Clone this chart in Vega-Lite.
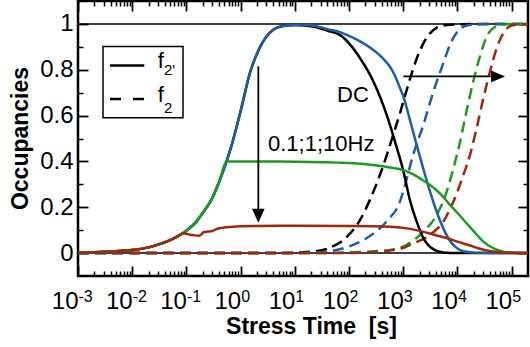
{
  "$schema": "https://vega.github.io/schema/vega-lite/v6.json",
  "width": 450,
  "height": 275,
  "autosize": {"type": "none"},
  "padding": {"left": 78, "top": 1, "right": 2, "bottom": 71},
  "background": "white",
  "config": {
    "view": {"stroke": "black", "strokeWidth": 2.5},
    "font": "Liberation Sans",
    "axis": {"grid": false, "labelColor": "black", "titleColor": "black", "tickColor": "black", "labelFont": "Liberation Sans", "titleFont": "Liberation Sans"}
  },
  "resolve": {"axis": {"x": "independent", "y": "independent"}},
  "layer": [
    {
      "data": {"values": [{"t": 0.001, "t2": 200000, "v": 0}, {"t": 0.001, "t2": 200000, "v": 1}]},
      "mark": {"type": "rule", "color": "black", "strokeWidth": 1.5},
      "encoding": {
        "x": {"field": "t", "type": "quantitative", "scale": {"type": "log", "domain": [0.001, 200000], "nice": false},
          "axis": {"orient": "bottom", "values": [0.001, 0.01, 0.1, 1, 10, 100, 1000, 10000, 100000], "labels": false, "domain": false, "ticks": true, "tickSize": -10, "tickWidth": 1.8, "title": null}},
        "x2": {"field": "t2"},
        "y": {"field": "v", "type": "quantitative", "scale": {"domain": [-0.1, 1.1], "nice": false, "zero": false},
          "axis": {"orient": "left", "values": [0, 0.2, 0.4, 0.6, 0.8, 1], "labels": false, "domain": false, "ticks": true, "tickSize": -10, "tickWidth": 1.8, "title": null}}
      }
    },
    {
      "data": {"values": [
        {"t": 0.001, "v": 0}, {"t": 5, "v": 0}, {"t": 10, "v": 0.002}, {"t": 20, "v": 0.006}, {"t": 40, "v": 0.02},
        {"t": 90, "v": 0.07}, {"t": 160, "v": 0.145}, {"t": 240, "v": 0.23}, {"t": 370, "v": 0.34}, {"t": 500, "v": 0.43},
        {"t": 660, "v": 0.52}, {"t": 870, "v": 0.61}, {"t": 1000, "v": 0.66}, {"t": 1330, "v": 0.76}, {"t": 1780, "v": 0.85},
        {"t": 2700, "v": 0.94}, {"t": 4100, "v": 0.983}, {"t": 6300, "v": 0.995}, {"t": 12600, "v": 0.999}, {"t": 200000, "v": 1}
      ]},
      "mark": {"type": "line", "color": "#000000", "strokeWidth": 2.5, "strokeDash": [11, 6], "interpolate": "monotone"},
      "encoding": {
        "x": {"field": "t", "type": "quantitative", "scale": {"type": "log", "domain": [0.001, 200000], "nice": false},
          "axis": {"orient": "bottom", "values": [0.002,0.003,0.004,0.005,0.006,0.007,0.008,0.009,0.02,0.03,0.04,0.05,0.06,0.07,0.08,0.09,0.2,0.3,0.4,0.5,0.6,0.7,0.8,0.9,2,3,4,5,6,7,8,9,20,30,40,50,60,70,80,90,200,300,400,500,600,700,800,900,2000,3000,4000,5000,6000,7000,8000,9000,20000,30000,40000,50000,60000,70000,80000,90000], "labels": false, "domain": false, "ticks": true, "tickSize": -5, "tickWidth": 1.5, "title": null}},
        "y": {"field": "v", "type": "quantitative", "scale": {"domain": [-0.1, 1.1], "nice": false, "zero": false},
          "axis": {"orient": "left", "values": [0.1, 0.3, 0.5, 0.7, 0.9], "labels": false, "domain": false, "ticks": true, "tickSize": -5, "tickWidth": 1.5, "title": null}}
      }
    },
    {
      "data": {"values": [
        {"t": 0.001, "v": 0}, {"t": 10, "v": 0}, {"t": 20, "v": 0.002}, {"t": 40, "v": 0.007}, {"t": 90, "v": 0.025},
        {"t": 210, "v": 0.065}, {"t": 500, "v": 0.14}, {"t": 870, "v": 0.225}, {"t": 1000, "v": 0.27}, {"t": 1530, "v": 0.43},
        {"t": 2350, "v": 0.56}, {"t": 3600, "v": 0.705}, {"t": 5500, "v": 0.83}, {"t": 7300, "v": 0.91}, {"t": 9700, "v": 0.963},
        {"t": 15000, "v": 0.993}, {"t": 25000, "v": 0.999}, {"t": 200000, "v": 1}
      ]},
      "mark": {"type": "line", "color": "#1a5fa6", "strokeWidth": 2.5, "strokeDash": [11, 6], "interpolate": "monotone"},
      "encoding": {
        "x": {"field": "t", "type": "quantitative", "scale": {"type": "log", "domain": [0.001, 200000], "nice": false},
          "axis": {"orient": "top", "values": [0.001, 0.01, 0.1, 1, 10, 100, 1000, 10000, 100000], "labels": false, "domain": false, "ticks": true, "tickSize": -10, "tickWidth": 1.8, "title": null}},
        "y": {"field": "v", "type": "quantitative", "scale": {"domain": [-0.1, 1.1], "nice": false, "zero": false},
          "axis": {"orient": "right", "values": [0, 0.2, 0.4, 0.6, 0.8, 1], "labels": false, "domain": false, "ticks": true, "tickSize": -10, "tickWidth": 1.8, "title": null}}
      }
    },
    {
      "data": {"values": [
        {"t": 0.001, "v": 0}, {"t": 30, "v": 0}, {"t": 100, "v": 0.003}, {"t": 250, "v": 0.007}, {"t": 570, "v": 0.014},
        {"t": 1160, "v": 0.036}, {"t": 2350, "v": 0.094}, {"t": 4150, "v": 0.167}, {"t": 6350, "v": 0.269}, {"t": 8430, "v": 0.371},
        {"t": 11200, "v": 0.487}, {"t": 14900, "v": 0.625}, {"t": 19600, "v": 0.75}, {"t": 26100, "v": 0.86}, {"t": 34700, "v": 0.945},
        {"t": 53100, "v": 0.99}, {"t": 80000, "v": 0.998}, {"t": 200000, "v": 1}
      ]},
      "mark": {"type": "line", "color": "#1c9c1c", "strokeWidth": 2.5, "strokeDash": [11, 6], "interpolate": "monotone"},
      "encoding": {
        "x": {"field": "t", "type": "quantitative", "scale": {"type": "log", "domain": [0.001, 200000], "nice": false},
          "axis": {"orient": "top", "values": [0.002,0.003,0.004,0.005,0.006,0.007,0.008,0.009,0.02,0.03,0.04,0.05,0.06,0.07,0.08,0.09,0.2,0.3,0.4,0.5,0.6,0.7,0.8,0.9,2,3,4,5,6,7,8,9,20,30,40,50,60,70,80,90,200,300,400,500,600,700,800,900,2000,3000,4000,5000,6000,7000,8000,9000,20000,30000,40000,50000,60000,70000,80000,90000], "labels": false, "domain": false, "ticks": true, "tickSize": -5, "tickWidth": 1.5, "title": null}},
        "y": {"field": "v", "type": "quantitative", "scale": {"domain": [-0.1, 1.1], "nice": false, "zero": false},
          "axis": {"orient": "right", "values": [0.1, 0.3, 0.5, 0.7, 0.9], "labels": false, "domain": false, "ticks": true, "tickSize": -5, "tickWidth": 1.5, "title": null}}
      }
    },
    {
      "data": {"values": [
        {"t": 0.001, "v": 0}, {"t": 100, "v": 0}, {"t": 300, "v": 0.005}, {"t": 1000, "v": 0.022}, {"t": 1330, "v": 0.036},
        {"t": 3120, "v": 0.08}, {"t": 5500, "v": 0.138}, {"t": 8430, "v": 0.225}, {"t": 12900, "v": 0.342}, {"t": 17100, "v": 0.43},
        {"t": 22600, "v": 0.546}, {"t": 30100, "v": 0.677}, {"t": 39900, "v": 0.793}, {"t": 53100, "v": 0.895}, {"t": 70300, "v": 0.96},
        {"t": 107000, "v": 0.995}, {"t": 200000, "v": 1}
      ]},
      "mark": {"type": "line", "color": "#a3260c", "strokeWidth": 2.5, "strokeDash": [11, 6], "interpolate": "monotone"},
      "encoding": {
        "x": {"field": "t", "type": "quantitative", "scale": {"type": "log", "domain": [0.001, 200000], "nice": false},
          "axis": {"orient": "bottom", "values": [0.001, 0.01, 0.1, 1, 10, 100, 1000, 10000, 100000], "labelExpr": "'10'", "labelAlign": "right", "labelDx": 1, "labelBaseline": "alphabetic", "labelPadding": 32, "labelFontSize": 24, "labelOverlap": false, "labelFlush": false, "ticks": false, "domain": false,
            "title": "Stress Time\u00a0 [s]", "titleFontSize": 23, "titleFontWeight": "bold", "titleBaseline": "alphabetic", "titleX": 233, "titleY": 57}},
        "y": {"field": "v", "type": "quantitative", "scale": {"domain": [-0.1, 1.1], "nice": false, "zero": false},
          "axis": {"orient": "left", "values": [0, 0.2, 0.4, 0.6, 0.8, 1], "labelExpr": "'' + datum.value", "labelFontSize": 24, "labelPadding": 5, "labelOverlap": false, "labelFlush": false, "ticks": false, "domain": false,
            "title": "Occupancies", "titleFontSize": 23, "titleFontWeight": "bold", "titleBaseline": "alphabetic", "titleX": -51, "titleY": 137}}
      }
    },
    {
      "data": {"values": [
        {"t": 0.001, "v": 0.002}, {"t": 0.002, "v": 0.004}, {"t": 0.005, "v": 0.008}, {"t": 0.01, "v": 0.013}, {"t": 0.02, "v": 0.025},
        {"t": 0.03, "v": 0.037}, {"t": 0.05, "v": 0.057}, {"t": 0.07, "v": 0.074}, {"t": 0.087, "v": 0.087}, {"t": 0.1, "v": 0.097},
        {"t": 0.15, "v": 0.135}, {"t": 0.2, "v": 0.175}, {"t": 0.3, "v": 0.24}, {"t": 0.4, "v": 0.31}, {"t": 0.55, "v": 0.4},
        {"t": 0.7, "v": 0.48}, {"t": 1, "v": 0.62}, {"t": 1.5, "v": 0.79}, {"t": 2, "v": 0.87}, {"t": 3, "v": 0.945},
        {"t": 4, "v": 0.975}, {"t": 5, "v": 0.986}, {"t": 7, "v": 0.993}, {"t": 10, "v": 0.995}, {"t": 15, "v": 0.993},
        {"t": 25, "v": 0.985}, {"t": 40, "v": 0.97}, {"t": 70, "v": 0.95}, {"t": 100, "v": 0.915}, {"t": 160, "v": 0.85},
        {"t": 280, "v": 0.75}, {"t": 500, "v": 0.6}, {"t": 760, "v": 0.46}, {"t": 1000, "v": 0.36}, {"t": 1330, "v": 0.23},
        {"t": 1780, "v": 0.135}, {"t": 2350, "v": 0.065}, {"t": 3600, "v": 0.016}, {"t": 5400, "v": 0.003}, {"t": 10000, "v": 0},
        {"t": 200000, "v": 0}
      ]},
      "mark": {"type": "line", "color": "#000000", "strokeWidth": 2.5, "interpolate": "monotone"},
      "encoding": {
        "x": {"field": "t", "type": "quantitative", "scale": {"type": "log", "domain": [0.001, 200000], "nice": false},
          "axis": {"orient": "bottom", "values": [0.001, 0.01, 0.1, 1, 10, 100, 1000, 10000, 100000], "labelExpr": "'' + round(log(datum.value) / LN10)", "labelAlign": "left", "labelDx": 4, "labelBaseline": "alphabetic", "labelPadding": 25, "labelFontSize": 16, "labelOverlap": false, "labelFlush": false, "ticks": false, "domain": false, "title": null}},
        "y": {"field": "v", "type": "quantitative", "scale": {"domain": [-0.1, 1.1], "nice": false, "zero": false}, "axis": null}
      }
    },
    {
      "data": {"values": [
        {"t": 0.001, "v": 0.002}, {"t": 0.002, "v": 0.004}, {"t": 0.005, "v": 0.008}, {"t": 0.01, "v": 0.013}, {"t": 0.02, "v": 0.025},
        {"t": 0.03, "v": 0.037}, {"t": 0.05, "v": 0.057}, {"t": 0.07, "v": 0.074}, {"t": 0.087, "v": 0.087}, {"t": 0.1, "v": 0.097},
        {"t": 0.15, "v": 0.135}, {"t": 0.2, "v": 0.175}, {"t": 0.3, "v": 0.24}, {"t": 0.4, "v": 0.31}, {"t": 0.55, "v": 0.4},
        {"t": 0.7, "v": 0.48}, {"t": 1, "v": 0.62}, {"t": 1.5, "v": 0.79}, {"t": 2, "v": 0.87}, {"t": 3, "v": 0.945},
        {"t": 4, "v": 0.975}, {"t": 5, "v": 0.986}, {"t": 7, "v": 0.993}, {"t": 10, "v": 0.995}, {"t": 15, "v": 0.995},
        {"t": 25, "v": 0.99}, {"t": 40, "v": 0.977}, {"t": 70, "v": 0.963}, {"t": 100, "v": 0.948}, {"t": 160, "v": 0.924},
        {"t": 250, "v": 0.895}, {"t": 400, "v": 0.855}, {"t": 560, "v": 0.815}, {"t": 700, "v": 0.775}, {"t": 870, "v": 0.72},
        {"t": 1000, "v": 0.685}, {"t": 1330, "v": 0.58}, {"t": 1600, "v": 0.51}, {"t": 2000, "v": 0.425}, {"t": 2500, "v": 0.345},
        {"t": 3100, "v": 0.27}, {"t": 4000, "v": 0.19}, {"t": 4800, "v": 0.14}, {"t": 6000, "v": 0.088}, {"t": 7300, "v": 0.053},
        {"t": 10000, "v": 0.02}, {"t": 13000, "v": 0.008}, {"t": 20000, "v": 0.002}, {"t": 40000, "v": 0}, {"t": 200000, "v": 0}
      ]},
      "mark": {"type": "line", "color": "#1a5fa6", "strokeWidth": 2.5, "interpolate": "monotone"},
      "encoding": {
        "x": {"field": "t", "type": "quantitative", "scale": {"type": "log", "domain": [0.001, 200000], "nice": false}, "axis": null},
        "y": {"field": "v", "type": "quantitative", "scale": {"domain": [-0.1, 1.1], "nice": false, "zero": false}, "axis": null}
      }
    },
    {
      "data": {"values": [
        {"t": 0.001, "v": 0.002}, {"t": 0.002, "v": 0.004}, {"t": 0.005, "v": 0.008}, {"t": 0.01, "v": 0.013}, {"t": 0.02, "v": 0.025},
        {"t": 0.03, "v": 0.037}, {"t": 0.05, "v": 0.057}, {"t": 0.07, "v": 0.074}, {"t": 0.087, "v": 0.087}, {"t": 0.1, "v": 0.097},
        {"t": 0.15, "v": 0.135}, {"t": 0.2, "v": 0.175}, {"t": 0.3, "v": 0.24}, {"t": 0.4, "v": 0.31}, {"t": 0.55, "v": 0.4},
        {"t": 0.7, "v": 0.4}, {"t": 1, "v": 0.4}, {"t": 10, "v": 0.399}, {"t": 100, "v": 0.393}, {"t": 300, "v": 0.383},
        {"t": 500, "v": 0.376}, {"t": 1000, "v": 0.362}, {"t": 1500, "v": 0.345}, {"t": 2000, "v": 0.327}, {"t": 3000, "v": 0.3},
        {"t": 5000, "v": 0.255}, {"t": 7000, "v": 0.215}, {"t": 10000, "v": 0.175}, {"t": 15000, "v": 0.128}, {"t": 20000, "v": 0.095},
        {"t": 30000, "v": 0.05}, {"t": 50000, "v": 0.017}, {"t": 70000, "v": 0.006}, {"t": 100000, "v": 0.002}, {"t": 200000, "v": 0}
      ]},
      "mark": {"type": "line", "color": "#1c9c1c", "strokeWidth": 2.5, "interpolate": "monotone"},
      "encoding": {
        "x": {"field": "t", "type": "quantitative", "scale": {"type": "log", "domain": [0.001, 200000], "nice": false}, "axis": null},
        "y": {"field": "v", "type": "quantitative", "scale": {"domain": [-0.1, 1.1], "nice": false, "zero": false}, "axis": null}
      }
    },
    {
      "data": {"values": [
        {"t": 0.001, "v": 0.002}, {"t": 0.002, "v": 0.004}, {"t": 0.005, "v": 0.008}, {"t": 0.01, "v": 0.013}, {"t": 0.02, "v": 0.025},
        {"t": 0.03, "v": 0.037}, {"t": 0.05, "v": 0.057}, {"t": 0.07, "v": 0.074}, {"t": 0.087, "v": 0.087}, {"t": 0.1, "v": 0.084},
        {"t": 0.13, "v": 0.079}, {"t": 0.17, "v": 0.076}, {"t": 0.185, "v": 0.08}, {"t": 0.21, "v": 0.092}, {"t": 0.25, "v": 0.094},
        {"t": 0.3, "v": 0.096}, {"t": 0.36, "v": 0.105}, {"t": 0.45, "v": 0.11}, {"t": 0.64, "v": 0.114}, {"t": 1, "v": 0.117},
        {"t": 2, "v": 0.118}, {"t": 10, "v": 0.119}, {"t": 100, "v": 0.118}, {"t": 300, "v": 0.117}, {"t": 1000, "v": 0.11},
        {"t": 2000, "v": 0.097}, {"t": 4000, "v": 0.078}, {"t": 6300, "v": 0.066}, {"t": 10000, "v": 0.05}, {"t": 16000, "v": 0.035},
        {"t": 25000, "v": 0.02}, {"t": 40000, "v": 0.009}, {"t": 63000, "v": 0.003}, {"t": 100000, "v": 0.001}, {"t": 200000, "v": 0}
      ]},
      "mark": {"type": "line", "color": "#a3260c", "strokeWidth": 2.5, "interpolate": "monotone"},
      "encoding": {
        "x": {"field": "t", "type": "quantitative", "scale": {"type": "log", "domain": [0.001, 200000], "nice": false}, "axis": null},
        "y": {"field": "v", "type": "quantitative", "scale": {"domain": [-0.1, 1.1], "nice": false, "zero": false}, "axis": null}
      }
    },
    {
      "data": {"values": [{"t": 0.00289, "t2": 0.0865, "v": 0.901, "v2": 0.591}]},
      "mark": {"type": "rect", "fill": "white", "stroke": "black", "strokeWidth": 1.5},
      "encoding": {
        "x": {"field": "t", "type": "quantitative", "scale": {"type": "log", "domain": [0.001, 200000], "nice": false}, "axis": null},
        "x2": {"field": "t2"},
        "y": {"field": "v", "type": "quantitative", "scale": {"domain": [-0.1, 1.1], "nice": false, "zero": false}, "axis": null},
        "y2": {"field": "v2"}
      }
    },
    {
      "data": {"values": [{"t": 0.00389, "t2": 0.0167, "v": 0.819}]},
      "mark": {"type": "rule", "color": "black", "strokeWidth": 2.5},
      "encoding": {
        "x": {"field": "t", "type": "quantitative", "scale": {"type": "log", "domain": [0.001, 200000], "nice": false}, "axis": null},
        "x2": {"field": "t2"},
        "y": {"field": "v", "type": "quantitative", "scale": {"domain": [-0.1, 1.1], "nice": false, "zero": false}, "axis": null}
      }
    },
    {
      "data": {"values": [{"t": 0.00389, "t2": 0.0167, "v": 0.672}]},
      "mark": {"type": "rule", "color": "black", "strokeWidth": 2.5, "strokeDash": [11, 12]},
      "encoding": {
        "x": {"field": "t", "type": "quantitative", "scale": {"type": "log", "domain": [0.001, 200000], "nice": false}, "axis": null},
        "x2": {"field": "t2"},
        "y": {"field": "v", "type": "quantitative", "scale": {"domain": [-0.1, 1.1], "nice": false, "zero": false}, "axis": null}
      }
    },
    {
      "data": {"values": [{"t": 2.12, "v": 0.815, "v2": 0.16}]},
      "mark": {"type": "rule", "color": "black", "strokeWidth": 1.8},
      "encoding": {
        "x": {"field": "t", "type": "quantitative", "scale": {"type": "log", "domain": [0.001, 200000], "nice": false}, "axis": null},
        "y": {"field": "v", "type": "quantitative", "scale": {"domain": [-0.1, 1.1], "nice": false, "zero": false}, "axis": null},
        "y2": {"field": "v2"}
      }
    },
    {
      "data": {"values": [{"t": 1000, "t2": 65000, "v": 0.771}]},
      "mark": {"type": "rule", "color": "black", "strokeWidth": 1.8},
      "encoding": {
        "x": {"field": "t", "type": "quantitative", "scale": {"type": "log", "domain": [0.001, 200000], "nice": false}, "axis": null},
        "x2": {"field": "t2"},
        "y": {"field": "v", "type": "quantitative", "scale": {"domain": [-0.1, 1.1], "nice": false, "zero": false}, "axis": null}
      }
    },
    {
      "data": {"values": [{"t": 2.12, "v": 0.132}]},
      "mark": {"type": "point", "shape": "M-0.9,-2L0.9,-2L0,0Z", "filled": true, "color": "black", "size": 196, "opacity": 1, "strokeWidth": 0},
      "encoding": {
        "x": {"field": "t", "type": "quantitative", "scale": {"type": "log", "domain": [0.001, 200000], "nice": false}, "axis": null},
        "y": {"field": "v", "type": "quantitative", "scale": {"domain": [-0.1, 1.1], "nice": false, "zero": false}, "axis": null}
      }
    },
    {
      "data": {"values": [{"t": 75500, "v": 0.771}]},
      "mark": {"type": "point", "shape": "M0,0L-2,-0.85L-2,0.85Z", "filled": true, "color": "black", "size": 196, "opacity": 1, "strokeWidth": 0},
      "encoding": {
        "x": {"field": "t", "type": "quantitative", "scale": {"type": "log", "domain": [0.001, 200000], "nice": false}, "axis": null},
        "y": {"field": "v", "type": "quantitative", "scale": {"domain": [-0.1, 1.1], "nice": false, "zero": false}, "axis": null}
      }
    },
    {
      "data": {"values": [
        {"t": 60, "v": 0.661, "label": "DC"},
        {"t": 3.2, "v": 0.444, "label": "0.1;1;10Hz"},
        {"t": 0.0295, "v": 0.809, "label": "f"},
        {"t": 0.0295, "v": 0.661, "label": "f"}
      ]},
      "mark": {"type": "text", "align": "left", "baseline": "alphabetic", "fontSize": 22, "font": "Liberation Sans", "color": "black"},
      "encoding": {
        "x": {"field": "t", "type": "quantitative", "scale": {"type": "log", "domain": [0.001, 200000], "nice": false}, "axis": null},
        "y": {"field": "v", "type": "quantitative", "scale": {"domain": [-0.1, 1.1], "nice": false, "zero": false}, "axis": null},
        "text": {"field": "label"}
      }
    },
    {
      "data": {"values": [
        {"t": 0.0386, "v": 0.778, "label": "2'"},
        {"t": 0.0386, "v": 0.613, "label": "2"}
      ]},
      "mark": {"type": "text", "align": "left", "baseline": "alphabetic", "fontSize": 15, "font": "Liberation Sans", "color": "black"},
      "encoding": {
        "x": {"field": "t", "type": "quantitative", "scale": {"type": "log", "domain": [0.001, 200000], "nice": false}, "axis": null},
        "y": {"field": "v", "type": "quantitative", "scale": {"domain": [-0.1, 1.1], "nice": false, "zero": false}, "axis": null},
        "text": {"field": "label"}
      }
    }
  ]
}
